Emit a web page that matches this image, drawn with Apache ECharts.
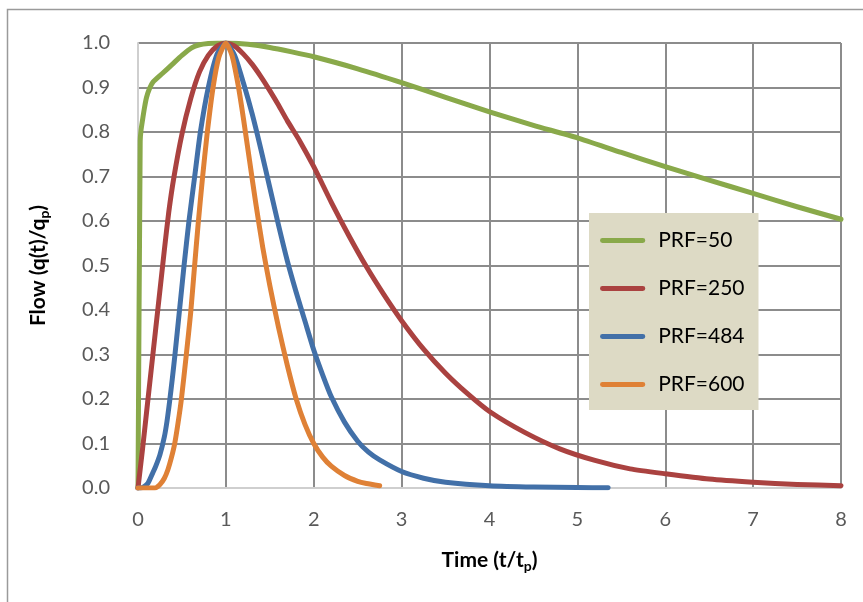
<!DOCTYPE html>
<html>
<head>
<meta charset="utf-8">
<script src="https://cdn.jsdelivr.net/npm/echarts@6/dist/echarts.min.js"></script>
<style>
html,body{margin:0;padding:0;background:#fff;}
#c{width:863px;height:602px;}
</style>
</head>
<body>
<div id="c"></div>
<script>
// ---- data ----
const seriesNames = ['PRF=50', 'PRF=250', 'PRF=484', 'PRF=600'];

const prf50T = [0, 0.025, 0.035, 0.057, 0.075, 0.096, 0.13, 0.17, 0.28, 0.39, 0.5, 0.61, 0.7, 0.8, 0.9, 1.0, 1.25, 1.5, 1.75, 2, 2.5, 3, 3.5, 4, 4.5, 5, 5.5, 6, 6.5, 7, 7.5, 8];
const prf50Q = [0, 0.78, 0.805, 0.834, 0.856, 0.877, 0.897, 0.912, 0.932, 0.952, 0.972, 0.989, 0.996, 0.999, 1.0, 1.0, 0.997, 0.99, 0.98, 0.969, 0.942, 0.911, 0.878, 0.845, 0.815, 0.787, 0.754, 0.722, 0.692, 0.662, 0.632, 0.604];

const prf250T = [0, 0.05, 0.1, 0.15, 0.2, 0.25, 0.3, 0.35, 0.41, 0.5, 0.6, 0.7, 0.8, 0.9, 1.0, 1.1, 1.2, 1.3, 1.4, 1.5, 1.6, 1.7, 1.84, 2.0, 2.2, 2.4, 2.6, 2.8, 3.0, 3.25, 3.5, 3.75, 4.0, 4.4, 4.8, 5.2, 5.6, 6, 6.5, 7, 7.5, 8];
const prf250Q = [0, 0.085, 0.175, 0.265, 0.355, 0.445, 0.535, 0.62, 0.7, 0.795, 0.875, 0.935, 0.972, 0.993, 1.0, 0.993, 0.975, 0.952, 0.924, 0.893, 0.86, 0.825, 0.78, 0.722, 0.642, 0.567, 0.497, 0.434, 0.376, 0.312, 0.258, 0.212, 0.172, 0.125, 0.088, 0.062, 0.043, 0.032, 0.02, 0.013, 0.008, 0.005];

const prf484T = [0, 0.03, 0.07, 0.114, 0.17, 0.2, 0.25, 0.3, 0.33, 0.36, 0.39, 0.418, 0.475, 0.524, 0.58, 0.645, 0.71, 0.8, 0.9, 1.0, 1.1, 1.2, 1.3, 1.4, 1.5, 1.6, 1.7, 1.8, 1.9, 2.0, 2.1, 2.2, 2.35, 2.5, 2.62, 2.75, 3.0, 3.25, 3.5, 4.0, 4.5, 5.0, 5.35];
const prf484Q = [0, 0, 0.003, 0.011, 0.035, 0.048, 0.075, 0.115, 0.15, 0.195, 0.245, 0.295, 0.405, 0.5, 0.6, 0.7, 0.8, 0.9, 0.975, 1.0, 0.972, 0.91, 0.84, 0.76, 0.675, 0.59, 0.51, 0.44, 0.375, 0.31, 0.255, 0.205, 0.148, 0.105, 0.081, 0.063, 0.037, 0.022, 0.013, 0.005, 0.002, 0.001, 0.0005];

const prf600T = [0, 0.1, 0.19, 0.25, 0.3, 0.34, 0.38, 0.418, 0.455, 0.494, 0.55, 0.6, 0.64, 0.683, 0.733, 0.786, 0.854, 0.92, 1.0, 1.07, 1.14, 1.2, 1.27, 1.34, 1.42, 1.5, 1.6, 1.7, 1.8, 1.9, 2.0, 2.1, 2.2, 2.35, 2.5, 2.6, 2.75];
const prf600Q = [0, 0, 0, 0.008, 0.022, 0.041, 0.068, 0.1, 0.145, 0.2, 0.3, 0.395, 0.49, 0.59, 0.695, 0.795, 0.9, 0.968, 1.0, 0.972, 0.905, 0.83, 0.735, 0.64, 0.54, 0.455, 0.36, 0.275, 0.2, 0.143, 0.1, 0.07, 0.049, 0.028, 0.015, 0.01, 0.005];

const xTicks = [0, 1, 2, 3, 4, 5, 6, 7, 8];
const yTicks = [0, 0.1, 0.2, 0.3, 0.4, 0.5, 0.6, 0.7, 0.8, 0.9, 1.0];

// ---- chart ----
const colors = ['#89A94A', '#AA4240', '#4270A8', '#DF8136'];
const tList = [prf50T, prf250T, prf484T, prf600T];
const qList = [prf50Q, prf250Q, prf484Q, prf600Q];
const FONT = 'Lato';

function zip(t, q) { return t.map((v, i) => [v, q[i]]); }

const chart = echarts.init(document.getElementById('c'), null, {renderer: 'canvas'});

const series = seriesNames.map((name, i) => ({
  name: name,
  type: 'line',
  data: zip(tList[i], qList[i]),
  showSymbol: false,
  symbol: 'none',
  smooth: 0.2,
  sampling: null,
  lineStyle: {color: colors[i], width: 5, cap: 'round', join: 'round'},
  itemStyle: {color: colors[i]},
  emphasis: {disabled: true},
  animation: false
}));

chart.setOption({
  animation: false,
  backgroundColor: '#ffffff',
  textStyle: {fontFamily: FONT},
  grid: {left: 138, right: 22, top: 43, bottom: 114, containLabel: false},
  graphic: [{
    type: 'rect',
    shape: {x: 7.5, y: 9.5, width: 900, height: 700},
    style: {fill: 'none', stroke: '#9a9a9a', lineWidth: 1.5},
    silent: true, z: -10
  }],
  legend: {
    orient: 'vertical',
    left: 589, top: 213,
    backgroundColor: '#DDDAC5',
    padding: [17, 14, 15, 11],
    itemGap: 27,
    itemWidth: 55,
    itemHeight: 14,
    icon: 'path://M3,5.5 L52,5.5 A3,3 0 0 1 52,11.5 L3,11.5 A3,3 0 0 1 3,5.5 Z M0,0 L0,0.01 M55,17 L55,16.99',
    data: seriesNames,
    textStyle: {fontFamily: FONT, fontSize: 21, color: '#000', padding: [0, 0, 0, 3]},
    selectedMode: false
  },
  xAxis: {
    type: 'value',
    min: 0, max: 8, interval: 1,
    axisLine: {show: true, lineStyle: {color: '#cfcfcf', width: 2}},
    axisTick: {show: false},
    axisLabel: {
      fontFamily: FONT, fontSize: 20, color: '#595959', margin: 22,
      formatter: v => xTicks.includes(v) ? String(v) : ''
    },
    splitLine: {show: true, showMinLine: false, lineStyle: {color: '#8c8c8c', width: 2}},
    name: '{a|Time (t/t}{s|p}{a|)}',
    nameLocation: 'middle',
    nameGap: 59,
    nameTextStyle: {
      rich: {
        a: {fontFamily: FONT, fontSize: 21, fontWeight: 'bold', color: '#000'},
        s: {fontFamily: FONT, fontSize: 14, fontWeight: 'bold', color: '#000', padding: [12, 0, 0, 0]}
      }
    }
  },
  yAxis: {
    type: 'value',
    min: 0, max: 1, interval: 0.1,
    axisLine: {show: true, lineStyle: {color: '#cfcfcf', width: 2}},
    axisTick: {show: false},
    axisLabel: {
      fontFamily: FONT, fontSize: 20, color: '#595959', margin: 28,
      formatter: v => v.toFixed(1)
    },
    splitLine: {show: true, showMinLine: false, lineStyle: {color: '#8c8c8c', width: 2}},
    name: '{a|Flow (q(t)/q}{s|p}{a|)}',
    nameLocation: 'middle',
    nameGap: 87,
    nameRotate: 90,
    nameTextStyle: {
      rich: {
        a: {fontFamily: FONT, fontSize: 21, fontWeight: 'bold', color: '#000'},
        s: {fontFamily: FONT, fontSize: 14, fontWeight: 'bold', color: '#000', padding: [12, 0, 0, 0]}
      }
    }
  },
  series: series
});
</script>
</body>
</html>
